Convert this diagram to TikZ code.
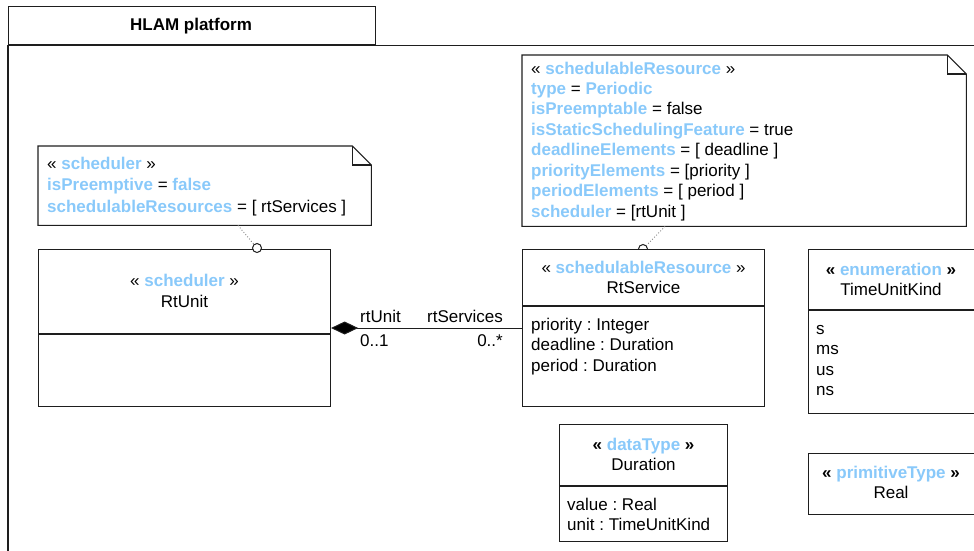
\documentclass[tikz,border=0pt]{standalone}
\usepackage{fontspec}
\setmainfont{Liberation Sans}
\usetikzlibrary{arrows.meta, positioning, calc}
\definecolor{stereoblue}{HTML}{89C9FA}
\definecolor{linegray}{HTML}{1E1E1E}
\newcommand{\umlfont}{\fontsize{17}{20.5}\selectfont\frenchspacing}
\newcommand{\tagval}[1]{\textbf{\textcolor{stereoblue}{#1}}}
\newcommand{\stereo}[1]{« \tagval{#1} »}
\newcommand{\stereobold}[1]{\textbf{« \tagval{#1} »}}
\tikzset{
  pkgtab/.style={
    rectangle, draw=linegray, line width=1.3pt, anchor=north west, inner sep=0pt
  },
  pkgline/.style={draw=linegray, line width=1.3pt},
  classbox/.style={
    rectangle, draw=linegray, fill=white, line width=1.1pt, anchor=north west, inner sep=0pt
  },
  classline/.style={draw=linegray, line width=1.1pt},
  notebody/.style={rectangle, anchor=north west, inner sep=0pt},
  noteline/.style={draw=linegray, line width=1.1pt, line join=miter},
  txt/.style={anchor=base, inner sep=0pt, font=\umlfont},
  pin/.style={circle, draw=linegray, fill=white, line width=1pt, minimum size=9pt, inner sep=0pt},
  pinline/.style={draw=gray, dotted, line width=0.9pt},
  composition/.style={draw=linegray, line width=1pt,
    {Diamond[length=27pt, width=13pt, fill=black]}-}
}
\begin{document}
\begin{tikzpicture}[x=1pt, y=-1pt, font=\umlfont]
  \useasboundingbox (0,0) rectangle (974,550);

  % Package frame
  \node[pkgtab, minimum width=367pt, minimum height=38pt] (pkg) at (8,6) {};
  \node[txt] (pkgname) at (191,30) {\textbf{HLAM platform}};
  \draw[pkgline] (pkg.south west |- 0,556) -- (pkg.south west) -- (pkg.south west -| 982,0);

  % Note on RtUnit
  \node[notebody, minimum width=333pt, minimum height=79pt] (schednote) at (38,146) {};
  \draw[noteline] (schednote.south west) -- (schednote.north west)
    -- ([xshift=-19pt]schednote.north east) -- ([yshift=-19pt]schednote.north east)
    -- (schednote.south east) -- cycle;
  \draw[noteline] ([xshift=-19pt]schednote.north east) |- ([yshift=-19pt]schednote.north east);
  \foreach \entry [count=\i] in {
      {\stereo{scheduler}},
      {\tagval{isPreemptive} = \tagval{false}},
      {\tagval{schedulableResources} = [ rtServices ]}}
    \node[txt, anchor=base west] (schedline\i) at (47, {169+21.5*(\i-1)}) {\entry};

  % Note on RtService
  \node[notebody, minimum width=444pt, minimum height=171pt] (resnote) at (522,55) {};
  \draw[noteline] (resnote.south west) -- (resnote.north west)
    -- ([xshift=-19pt]resnote.north east) -- ([yshift=-19pt]resnote.north east)
    -- (resnote.south east) -- cycle;
  \draw[noteline] ([xshift=-19pt]resnote.north east) |- ([yshift=-19pt]resnote.north east);
  \foreach \entry [count=\i] in {
      {\stereo{schedulableResource}},
      {\tagval{type} = \tagval{Periodic}},
      {\tagval{isPreemptable} = false},
      {\tagval{isStaticSchedulingFeature} = true},
      {\tagval{deadlineElements} = [ deadline ]},
      {\tagval{priorityElements} = [priority ]},
      {\tagval{periodElements} = [ period ]},
      {\tagval{scheduler} = [rtUnit ]}}
    \node[txt, anchor=base west] (resline\i) at (531, {74+20.43*(\i-1)}) {\entry};

  % RtUnit
  \node[classbox, minimum width=292pt, minimum height=157pt] (rtunit) at (38,249) {};
  \draw[classline] (rtunit.west |- 0,334) -- (rtunit.east |- 0,334);
  \node[txt] (rtunitst) at (rtunit.north |- 0,286) {\stereo{scheduler}};
  \node[txt] (rtunitname) at (rtunit.north |- 0,307) {RtUnit};
  \node[pin] (schedpin) at (257,248) {};
  \draw[pinline] (schednote.south -| 238,0) -- (schedpin);

  % RtService
  \node[pin] (respin) at (643,249) {};
  \draw[pinline] (resnote.south -| 665,0) -- (respin);
  \node[classbox, minimum width=242pt, minimum height=157pt] (rtservice) at (522,249) {};
  \draw[classline] (rtservice.west |- 0,306) -- (rtservice.east |- 0,306);
  \node[txt] (rtservicest) at (rtservice.north |- 0,273) {\stereo{schedulableResource}};
  \node[txt] (rtservicename) at (rtservice.north |- 0,293) {RtService};
  \foreach \attr [count=\i] in {priority : Integer, deadline : Duration, period : Duration}
    \node[txt, anchor=base west] (rtserviceattr\i) at (531, {330+20.5*(\i-1)}) {\attr};

  % Composition
  \draw[composition] (rtunit.east |- 0,328) -- (rtservice.west |- 0,328);
  \node[txt, anchor=base west] (roleunit) at (360,322) {rtUnit};
  \node[txt, anchor=base west] (multunit) at (360,346) {0..1};
  \node[txt, anchor=base east] (roleservices) at (503,322) {rtServices};
  \node[txt, anchor=base east] (multservices) at (503,346) {0..*};

  % TimeUnitKind
  \node[classbox, minimum width=168pt, minimum height=164pt] (timeunit) at (808,249) {};
  \draw[classline] (timeunit.west |- 0,310) -- (timeunit.east |- 0,310);
  \node[txt] (timeunitst) at (891,275) {\stereobold{enumeration}};
  \node[txt] (timeunitname) at (891,295) {TimeUnitKind};
  \foreach \lit [count=\i] in {s, ms, us, ns}
    \node[txt, anchor=base west] (timeunitlit\i) at (816, {334+20.6*(\i-1)}) {\lit};

  % Duration
  \node[classbox, minimum width=168pt, minimum height=117pt] (duration) at (559,424) {};
  \draw[classline] (duration.west |- 0,486) -- (duration.east |- 0,486);
  \node[txt] (durationst) at (duration.north |- 0,450) {\stereobold{dataType}};
  \node[txt] (durationname) at (duration.north |- 0,470) {Duration};
  \foreach \attr [count=\i] in {value : Real, unit : TimeUnitKind}
    \node[txt, anchor=base west] (durationattr\i) at (567, {510+20*(\i-1)}) {\attr};

  % Real
  \node[classbox, minimum width=168pt, minimum height=61pt] (real) at (808,453) {};
  \node[txt] (realst) at (891,478) {\stereobold{primitiveType}};
  \node[txt] (realname) at (891,498) {Real};

\end{tikzpicture}
\end{document}
